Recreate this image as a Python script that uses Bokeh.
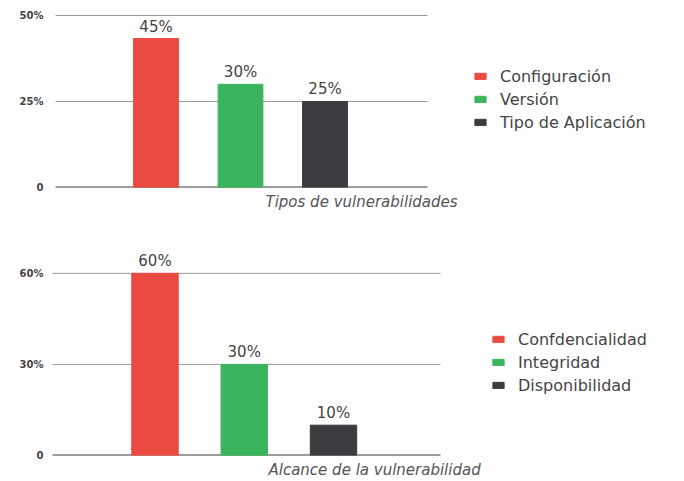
from bokeh.plotting import figure
from bokeh.models import ColumnDataSource, Legend, LegendItem, Title, Range1d, FixedTicker, CustomJSTickFormatter
from bokeh.layouts import column
from bokeh.embed import file_html
from bokeh.resources import INLINE
from bokeh.core.properties import value

# ---- data ----
tipos_cats = ["Configuración", "Versión", "Tipo de Aplicación"]
tipos_vals = [43.3, 30, 25]          # bar heights as drawn in the picture
tipos_labels = ["45%", "30%", "25%"]  # printed values
tipos_ticks = [0, 25, 50]
tipos_title = "Tipos de vulnerabilidades"

alcance_cats = ["Confdencialidad", "Integridad", "Disponibilidad"]
alcance_vals = [60, 30, 10]
alcance_labels = ["60%", "30%", "10%"]
alcance_ticks = [0, 30, 60]
alcance_title = "Alcance de la vulnerabilidad"

colors = ["#EA4A40", "#3BB45E", "#3A3C3F"]
FONT = "DejaVu Sans"
FRAME_LEFT = 52


def make_chart(cats, vals, labels, ticks, title, height, top_b, bot_b, xr, yr, grid_x,
               bar_w, legend_loc, title_offset, title_standoff):
    p = figure(width=684, height=height, output_backend="svg", toolbar_location=None,
               x_range=Range1d(*xr), y_range=Range1d(*yr),
               min_border_left=FRAME_LEFT, min_border_right=0,
               min_border_top=top_b, min_border_bottom=bot_b,
               outline_line_color=None, background_fill_color="white",
               border_fill_color="white")
    xs = list(range(1, len(cats) + 1))
    src = ColumnDataSource(dict(x=xs, top=vals, color=colors, cat=cats, lab=labels))

    # grid lines and base line, limited to the chart area
    p.segment(x0=[grid_x[0]] * (len(ticks) - 1), x1=[grid_x[1]] * (len(ticks) - 1),
              y0=ticks[1:], y1=ticks[1:], line_color="#9a9a9a", line_width=1)
    p.segment(x0=[grid_x[0]], x1=[grid_x[1]], y0=[ticks[0]], y1=[ticks[0]],
              line_color="#3a3a3a", line_width=2)

    r = p.vbar(x="x", top="top", width=bar_w, color="color", source=src)
    p.text(x="x", y="top", text="lab", source=src, text_align="center",
           text_baseline="bottom", y_offset=-3, text_font=value(FONT),
           text_font_size="15px", text_color="#444444")

    items = [LegendItem(label=c, renderers=[r], index=i) for i, c in enumerate(cats)]
    leg = Legend(items=items, location=legend_loc, border_line_color=None,
                 background_fill_alpha=0, padding=0, margin=0, spacing=3,
                 label_height=20, glyph_height=8, glyph_width=14, label_standoff=13,
                 label_text_font=FONT, label_text_font_size="16px",
                 label_text_color="#444444")
    p.add_layout(leg, "center")

    p.yaxis.ticker = FixedTicker(ticks=ticks)
    p.yaxis.formatter = CustomJSTickFormatter(code="return tick == 0 ? '0' : tick + '%';")
    p.yaxis.axis_line_color = None
    p.yaxis.major_tick_line_color = None
    p.yaxis.minor_tick_line_color = None
    p.yaxis.major_label_text_font = FONT
    p.yaxis.major_label_text_font_size = "10px"
    p.yaxis.major_label_text_font_style = "bold"
    p.yaxis.major_label_text_color = "#444444"
    p.yaxis.major_label_standoff = 3

    p.xaxis.visible = False
    p.xgrid.visible = False
    p.ygrid.visible = False

    t = Title(text=title, align="left", offset=title_offset, text_font=FONT,
              text_font_size="15px", text_font_style="italic", text_color="#555555",
              standoff=title_standoff)
    p.add_layout(t, "below")
    return p


p1 = make_chart(tipos_cats, tipos_vals, tipos_labels, tipos_ticks, tipos_title, 240,
                0, 53, (-0.2249, 7.254), (0, 54.36), (-0.1894, 4.213), 0.53,
                (421, 55), 213, 6)
p2 = make_chart(alcance_cats, alcance_vals, alcance_labels, alcance_ticks, alcance_title, 241,
                0, 25, (-0.1485, 6.933), (0, 70.82), (-0.171, 4.199), 0.52,
                (439, 60), 216, 6)

layout = column(p1, p2, spacing=0)
open("out.html", "w").write(file_html(layout, INLINE))
